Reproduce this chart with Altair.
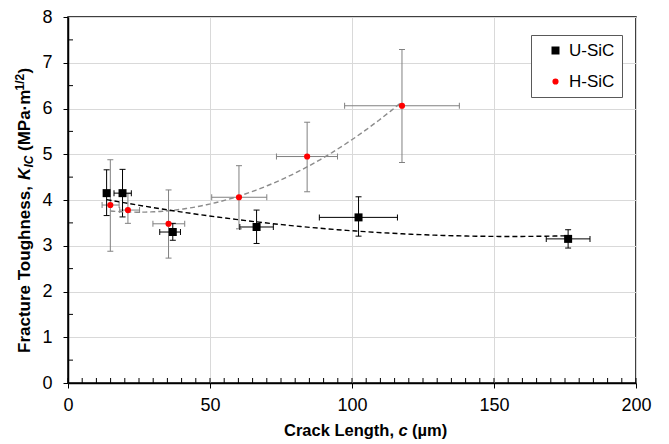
import altair as alt
import pandas as pd

# ---- data ----
series_names = ["U-SiC", "H-SiC"]

u_x = [13.6, 19.2, 36.9, 66.4, 102.3, 176.1]
u_y = [4.15, 4.15, 3.30, 3.41, 3.62, 3.15]
u_ylo = [3.66, 3.63, 3.12, 3.05, 3.21, 2.95]
u_yhi = [4.66, 4.67, 3.49, 3.78, 4.07, 3.35]
u_xlo = [12.6, 16.2, 32.3, 60.5, 88.5, 168.4]
u_xhi = [14.6, 22.3, 39.6, 72.3, 116.0, 183.8]

h_x = [14.9, 21.1, 35.4, 60.2, 84.2, 117.6]
h_y = [3.89, 3.78, 3.48, 4.06, 4.95, 6.06]
h_ylo = [2.88, 3.49, 2.73, 3.37, 4.18, 4.82]
h_yhi = [4.88, 4.14, 4.22, 4.75, 5.70, 7.29]
h_xlo = [12.0, 18.2, 29.9, 50.6, 73.4, 97.4]
h_xhi = [18.0, 25.2, 41.1, 70.0, 94.9, 137.8]

x_ticks = [0, 50, 100, 150, 200]
y_ticks = [0, 1, 2, 3, 4, 5, 6, 7, 8]
x_minor = list(range(0, 201, 5))
y_minor = [0.5, 1.5, 2.5, 3.5, 4.5, 5.5, 6.5, 7.5]

FONT = "Liberation Sans"

df = pd.concat([
    pd.DataFrame({"series": "U-SiC", "x": u_x, "y": u_y, "ylo": u_ylo, "yhi": u_yhi, "xlo": u_xlo, "xhi": u_xhi}),
    pd.DataFrame({"series": "H-SiC", "x": h_x, "y": h_y, "ylo": h_ylo, "yhi": h_yhi, "xlo": h_xlo, "xhi": h_xhi}),
], ignore_index=True)

W, H = 568, 366
xs = alt.Scale(domain=[0, 200], nice=False, zero=False)
ys = alt.Scale(domain=[0, 8], nice=False, zero=False)

XA = alt.Axis(values=x_ticks, title=None, grid=True, gridColor="#d9d9d9", gridWidth=1,
              domainColor="black", domainWidth=1.5, tickColor="black", tickSize=5, tickWidth=1,
              labelFont=FONT, labelFontSize=18, labelColor="black", labelPadding=8,
              labelFlush=False)
YA = alt.Axis(values=y_ticks, title=None, grid=True, gridColor="#d9d9d9", gridWidth=1,
              domainColor="black", domainWidth=1.5, tickColor="black", tickSize=5, tickWidth=1,
              labelFont=FONT, labelFontSize=18, labelColor="black", labelPadding=11,
              labelFlush=False)


def X(f):
    return alt.X(f, scale=xs, axis=XA)


def Y(f):
    return alt.Y(f, scale=ys, axis=YA)


# minor ticks
xminor = alt.Chart(pd.DataFrame({"v": x_minor})).mark_rule(color="black", strokeWidth=1).encode(
    x=X("v:Q"), y=alt.value(H), y2=alt.value(H - 5))
yminor = alt.Chart(pd.DataFrame({"v": y_minor})).mark_rule(color="black", strokeWidth=1).encode(
    y=Y("v:Q"), x=alt.value(0), x2=alt.value(5))


def error_layers(name, color):
    b = alt.Chart(df).transform_filter(alt.datum.series == name)
    vy = b.mark_rule(color=color, strokeWidth=1).encode(x=X("x:Q"), y=Y("ylo:Q"), y2="yhi:Q")
    vx = b.mark_rule(color=color, strokeWidth=1).encode(x=X("xlo:Q"), x2="xhi:Q", y=Y("y:Q"))
    c1 = b.mark_tick(orient="horizontal", size=6, thickness=1, color=color, opacity=1).encode(
        x=X("x:Q"), y=Y("ylo:Q"))
    c2 = b.mark_tick(orient="horizontal", size=6, thickness=1, color=color, opacity=1).encode(
        x=X("x:Q"), y=Y("yhi:Q"))
    c3 = b.mark_tick(orient="vertical", size=6, thickness=1, color=color, opacity=1).encode(
        x=X("xlo:Q"), y=Y("y:Q"))
    c4 = b.mark_tick(orient="vertical", size=6, thickness=1, color=color, opacity=1).encode(
        x=X("xhi:Q"), y=Y("y:Q"))
    return [vy, vx, c1, c2, c3, c4]


def trend(name, color):
    return alt.Chart(df).transform_filter(alt.datum.series == name).transform_regression(
        "x", "y", method="poly", order=2
    ).mark_line(color=color, strokeDash=[5, 3], strokeWidth=1.4).encode(x=X("x:Q"), y=Y("y:Q"))


leg = alt.Legend(title=None, orient="none", legendX=463, legendY=18, padding=7, rowPadding=13,
                 symbolOffset=9, labelOffset=5, labelFont=FONT, labelFontSize=17, labelColor="black",
                 strokeColor="#595959", fillColor="white", symbolStrokeWidth=0,
                 labelExpr="datum.label + '\u00a0\u00a0'")

points = alt.Chart(df).mark_point(filled=True, opacity=1, strokeWidth=0).encode(
    x=X("x:Q"),
    y=Y("y:Q"),
    color=alt.Color("series:N", scale=alt.Scale(domain=series_names, range=["black", "#ff0000"]), legend=leg),
    shape=alt.Shape("series:N", scale=alt.Scale(domain=series_names, range=["square", "circle"]), legend=leg),
    size=alt.Size("series:N", scale=alt.Scale(domain=series_names, range=[64, 38]), legend=leg),
    order=alt.Order("series:N", sort="descending"),
)


def txt(s, x, y, size=17, angle=0, align="left", style="normal"):
    return alt.Chart(pd.DataFrame({"t": [s]})).mark_text(
        font=FONT, fontSize=size, fontWeight="bold", fontStyle=style, color="black",
        align=align, baseline="alphabetic", angle=angle
    ).encode(text="t:N", x=alt.value(x), y=alt.value(y))


# x title: Crack Length, c (µm)
xt_y = 419
x_title = [
    txt("Crack Length,", 326, xt_y, size=16.5, align="right"),
    txt("c", 335, xt_y, size=16.5, align="center", style="italic"),
    txt("(µm)", 344, xt_y, size=16.5, align="left"),
]

# y title: Fracture Toughness, K_IC (MPa·m^1/2), rotated
yb = -38
y0 = 336
y_title = [
    txt("Fracture Toughness,", yb, y0, angle=270),
    txt("K", yb, y0 - 173, angle=270, style="italic"),
    txt("IC", yb + 3, y0 - 185.5, size=12, angle=270, style="italic"),
    txt("(MPa·m", yb, y0 - 202, angle=270),
    txt("1/2", yb - 6, y0 - 262.5, size=12, angle=270),
    txt(")", yb, y0 - 279.5, angle=270),
]

layers = [xminor, yminor]
layers += error_layers("H-SiC", "#808080")
layers += error_layers("U-SiC", "black")
layers += [trend("H-SiC", "#8c8c8c"), trend("U-SiC", "black"), points]
layers += x_title + y_title

chart = alt.layer(*layers).properties(
    width=W, height=H,
    autosize=alt.AutoSizeParams(type="none"),
    padding={"left": 60, "top": 9, "right": 24, "bottom": 60},
).configure_view(stroke="black", strokeWidth=1.5)

chart.save("out.html", embed_options={"renderer": "svg", "actions": False})
